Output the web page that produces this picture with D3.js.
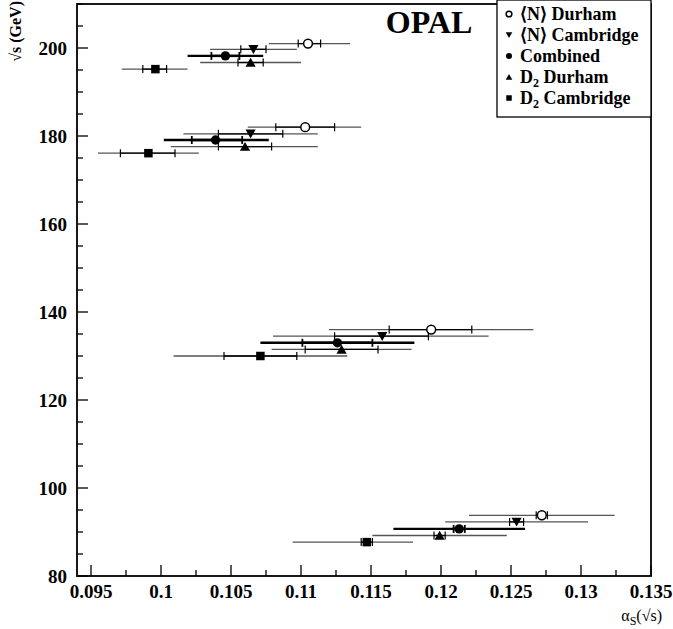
<!DOCTYPE html>
<html><head><meta charset="utf-8">
<script src="https://cdn.jsdelivr.net/npm/d3@7"></script>
<style>body{margin:0;background:#fff}svg{display:block}text{font-family:"Liberation Serif","Times New Roman",serif}</style>
</head><body><svg id="c" width="673" height="629"></svg>
<script>
// series: [sqrt(s) position, alpha, inner low, inner high, outer low, outer high]
const nDurham = [
  [201.0, 0.1105, 0.1098, 0.1114, 0.1077, 0.1135],
  [182.0, 0.1103, 0.1082, 0.1124, 0.1062, 0.1143],
  [136.0, 0.1193, 0.1163, 0.1222, 0.1120, 0.1266],
  [93.8, 0.1272, 0.1268, 0.1276, 0.1220, 0.1324]
];
const nCambridge = [
  [199.7, 0.1066, 0.1057, 0.1075, 0.1035, 0.1097],
  [180.5, 0.1064, 0.1041, 0.1087, 0.1016, 0.1112],
  [134.5, 0.1158, 0.1124, 0.1191, 0.1080, 0.1234],
  [92.3, 0.1254, 0.1249, 0.1259, 0.1203, 0.1305]
];
const combined = [
  [198.2, 0.1046, 0.1036, 0.1056, 0.1019, 0.1073],
  [179.1, 0.1039, 0.1022, 0.1058, 0.1002, 0.1077],
  [133.0, 0.1126, 0.1101, 0.1151, 0.1071, 0.1181],
  [90.7, 0.1213, 0.1209, 0.1217, 0.1166, 0.1260]
];
const d2Durham = [
  [196.7, 0.1064, 0.1055, 0.1073, 0.1028, 0.1100],
  [177.6, 0.1060, 0.1041, 0.1079, 0.1007, 0.1112],
  [131.5, 0.1129, 0.1103, 0.1155, 0.1079, 0.1179],
  [89.2, 0.1199, 0.1195, 0.1203, 0.1151, 0.1247]
];
const d2Cambridge = [
  [195.2, 0.0996, 0.0987, 0.1004, 0.0972, 0.1019],
  [176.1, 0.0991, 0.0971, 0.1010, 0.0955, 0.1027],
  [130.0, 0.1071, 0.1045, 0.1097, 0.1009, 0.1133],
  [87.7, 0.1147, 0.1143, 0.1151, 0.1094, 0.1180]
];
const xTicks = [0.095, 0.1, 0.105, 0.11, 0.115, 0.12, 0.125, 0.13, 0.135];
const xTickLabels = ["0.095", "0.1", "0.105", "0.11", "0.115", "0.12", "0.125", "0.13", "0.135"];
const yTicks = [80, 100, 120, 140, 160, 180, 200];
const yTickLabels = ["80", "100", "120", "140", "160", "180", "200"];
const legendLabels = ["⟨N⟩ Durham", "⟨N⟩ Cambridge", "Combined", "D2 Durham", "D2 Cambridge"];

const svg = d3.select("#c");
const L = 77, R = 651, T = 4, B = 576;
const x = d3.scaleLinear().domain([0.094, 0.135]).range([L, R]);
const y = d3.scaleLinear().domain([80, 210]).range([B, T]);

// axes
const xMinor = d3.range(0, 17).map(i => 0.095 + i * 0.0025);
const yMinor = d3.range(80, 211, 5);
const gx = svg.append("g");
gx.selectAll("line.mn").data(xMinor).join("line")
  .attr("x1", d => x(d)).attr("x2", d => x(d)).attr("y1", B).attr("y2", d => B - (xTicks.some(t => Math.abs(t - d) < 1e-9) ? 11 : 6))
  .attr("stroke", "#000").attr("stroke-width", 1.3);
gx.selectAll("text").data(xTicks).join("text")
  .attr("x", d => x(d)).attr("y", 598).attr("text-anchor", "middle")
  .attr("font-size", 19).attr("font-weight", "bold").text((d, i) => xTickLabels[i]);
const gy = svg.append("g");
gy.selectAll("line").data(yMinor).join("line")
  .attr("y1", d => y(d)).attr("y2", d => y(d)).attr("x1", L).attr("x2", d => L + (yTicks.includes(d) ? 11 : 6))
  .attr("stroke", "#000").attr("stroke-width", 1.3);
gy.selectAll("text").data(yTicks).join("text")
  .attr("x", 67).attr("y", d => y(d) + 6.5).attr("text-anchor", "end")
  .attr("font-size", 19).attr("font-weight", "bold").text((d, i) => yTickLabels[i]);

// frame
svg.append("rect").attr("x", L).attr("y", T).attr("width", R - L).attr("height", B - T)
  .attr("fill", "none").attr("stroke", "#000").attr("stroke-width", 1.8);

// axis titles
const xt = svg.append("text").attr("x", 662).attr("y", 621).attr("text-anchor", "end").attr("font-size", 16);
xt.append("tspan").text("α");
xt.append("tspan").attr("font-size", 12).attr("dy", 4).text("S");
xt.append("tspan").attr("dy", -4).text("(√s)");
svg.append("text").attr("transform", "translate(21,1) rotate(-90)").attr("text-anchor", "end")
  .attr("font-size", 16).attr("font-weight", "bold").text("√s (GeV)");

// OPAL
svg.append("text").attr("x", 429).attr("y", 33).attr("text-anchor", "middle")
  .attr("font-size", 32).attr("font-weight", "bold").text("OPAL");

// markers
function marker(g, type, cx, cy, s) {
  if (type === "openCircle") g.append("circle").attr("cx", cx).attr("cy", cy).attr("r", s * 0.52).attr("fill", "#fff").attr("stroke", "#000").attr("stroke-width", 1.5);
  else if (type === "circle") g.append("circle").attr("cx", cx).attr("cy", cy).attr("r", s * 0.55).attr("fill", "#000");
  else if (type === "square") g.append("rect").attr("x", cx - s / 2).attr("y", cy - s / 2).attr("width", s).attr("height", s).attr("fill", "#000");
  else if (type === "down") g.append("path").attr("d", `M${cx - s * 0.6},${cy - s * 0.5}L${cx + s * 0.6},${cy - s * 0.5}L${cx},${cy + s * 0.55}Z`).attr("fill", "#000");
  else if (type === "up") g.append("path").attr("d", `M${cx - s * 0.6},${cy + s * 0.5}L${cx + s * 0.6},${cy + s * 0.5}L${cx},${cy - s * 0.55}Z`).attr("fill", "#000");
}

const series = [
  { data: nDurham, type: "openCircle", thick: false },
  { data: nCambridge, type: "down", thick: false },
  { data: combined, type: "circle", thick: true },
  { data: d2Durham, type: "up", thick: false },
  { data: d2Cambridge, type: "square", thick: false }
];
const gp = svg.append("g");
series.forEach(s => {
  s.data.forEach(d => {
    const g = gp.append("g");
    const yy = y(d[0]);
    const w = s.thick ? 2.4 : 1.3;
    g.append("line").attr("x1", x(d[4])).attr("x2", x(d[5])).attr("y1", yy).attr("y2", yy)
      .attr("stroke", s.thick ? "#000" : "#555").attr("stroke-width", w);
    g.append("line").attr("x1", x(d[2])).attr("x2", x(d[3])).attr("y1", yy).attr("y2", yy)
      .attr("stroke", "#000").attr("stroke-width", w);
    [d[2], d[3]].forEach(v => g.append("line").attr("x1", x(v)).attr("x2", x(v)).attr("y1", yy - 4).attr("y2", yy + 4)
      .attr("stroke", "#000").attr("stroke-width", s.thick ? 1.8 : 1.2));
    marker(g, s.type, x(d[1]), yy, 8.5);
  });
});

// legend
svg.append("rect").attr("x", 497).attr("y", 0).attr("width", 154).attr("height", 117)
  .attr("fill", "#fff").attr("stroke", "#000").attr("stroke-width", 1.3);
series.forEach((s, i) => {
  const ly = 14 + i * 21;
  marker(svg, s.type, 509, ly, 5.5);
  const t = svg.append("text").attr("x", 520).attr("y", ly + 6).attr("font-size", 18).attr("font-weight", "bold");
  const lab = legendLabels[i];
  if (lab.startsWith("D2")) {
    t.append("tspan").text("D");
    t.append("tspan").attr("font-size", 12).attr("dy", 4).text("2");
    t.append("tspan").attr("dy", -4).text(lab.slice(2));
  } else t.text(lab);
});
</script></body></html>
